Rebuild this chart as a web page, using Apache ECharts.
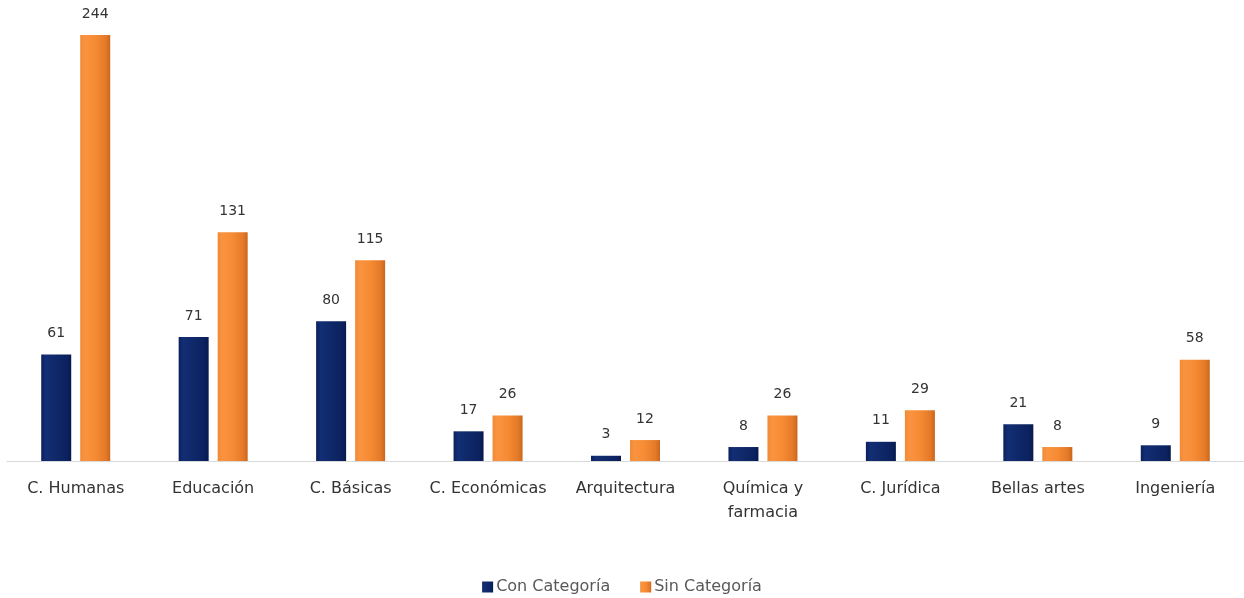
<!DOCTYPE html>
<html><head><meta charset="utf-8">
<script src="https://cdn.jsdelivr.net/npm/echarts@6/dist/echarts.min.js"></script>
<style>html,body{margin:0;padding:0;background:#fff}#c{width:1244px;height:598px}</style>
</head><body><div id="c"></div>
<script>
const categories = ['C. Humanas','Educación','C. Básicas','C. Económicas','Arquitectura','Química y\nfarmacia','C. Jurídica','Bellas artes','Ingeniería'];
const conCategoria = [61,71,80,17,3,8,11,21,9];
const sinCategoria = [244,131,115,26,12,26,29,8,58];
const seriesNames = ['Con Categoría','Sin Categoría'];

const blueGrad = new echarts.graphic.LinearGradient(0,0,1,0,[
  {offset:0,color:'#0b1f5c'},{offset:0.15,color:'#132e75'},{offset:0.5,color:'#0f2868'},{offset:0.85,color:'#0c2260'},{offset:1,color:'#081a4c'}]);
const orangeGrad = new echarts.graphic.LinearGradient(0,0,1,0,[
  {offset:0,color:'#f08a35'},{offset:0.15,color:'#fa9340'},{offset:0.5,color:'#f68b34'},{offset:0.85,color:'#e47a28'},{offset:1,color:'#c9661c'}]);

const chart = echarts.init(document.getElementById('c'));
const labelStyle = {show:true,position:'top',distance:14,color:'#333',fontSize:14,fontFamily:'DejaVu Sans'};
chart.setOption({
  animation:false,
  grid:{left:7,right:0,top:35,bottom:137},
  legend:{bottom:-2,left:'center',itemWidth:11,itemHeight:11,itemGap:30,itemStyle:{borderWidth:0},icon:'rect',
    textStyle:{color:'#595959',fontSize:16,fontFamily:'DejaVu Sans',padding:[0,0,0,-2]},data:seriesNames},
  xAxis:{type:'category',data:categories,
    axisLine:{lineStyle:{color:'#d9d9d9',width:1}},axisTick:{show:false},
    axisLabel:{color:'#333',fontSize:16,fontFamily:'DejaVu Sans',margin:16,lineHeight:24,interval:0}},
  yAxis:{type:'value',min:0,max:244,show:false,splitLine:{show:false}},
  series:[
    {name:seriesNames[0],type:'bar',data:conCategoria,barWidth:30,barGap:'30%',
      itemStyle:{color:blueGrad},label:labelStyle},
    {name:seriesNames[1],type:'bar',data:sinCategoria,barWidth:30,
      itemStyle:{color:orangeGrad},label:labelStyle}
  ]
});
</script></body></html>
